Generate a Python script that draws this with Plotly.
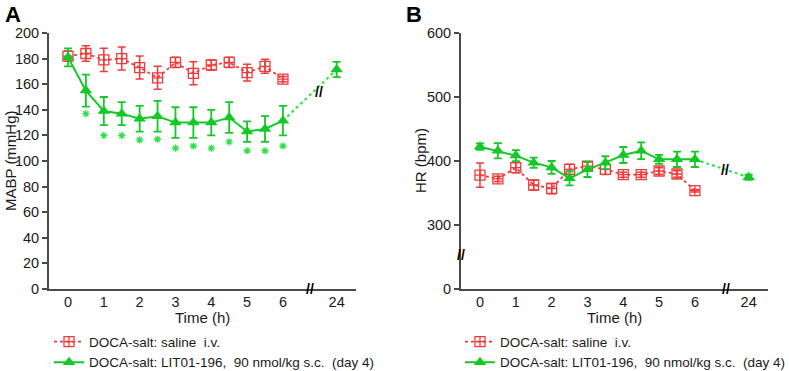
import plotly.graph_objects as go

# ---------------- data ----------------
times = [0, 0.5, 1, 1.5, 2, 2.5, 3, 3.5, 4, 4.5, 5, 5.5, 6]
late_time = 24
x_tick_labels = ["0", "1", "2", "3", "4", "5", "6", "24"]

mabp_saline = [182, 184, 179, 180, 173, 165, 177, 168.5, 175, 177, 169, 174, 164]
mabp_saline_err = [4, 6, 9, 9, 9, 9, 4, 9, 4, 4, 6.5, 5.5, 2]
mabp_lit = [181, 155, 139, 137, 133, 135, 130, 130, 130, 134, 123, 125, 131.5]
mabp_lit_err = [7, 12.5, 11, 9, 10, 12, 12, 12, 10, 12, 8, 10, 11.5]
mabp_lit_24 = 171.5
mabp_lit_24_err = 6
star_times = [0.5, 1, 1.5, 2, 2.5, 3, 3.5, 4, 4.5, 5, 5.5, 6]
star_mabp = [137, 120, 120, 116.5, 117, 110, 111.7, 110, 115, 108, 108, 111.7]

hr_saline = [378, 372, 389.6, 362.5, 357, 387, 392, 387, 378.6, 378.6, 384.4, 379.7, 353.6]
hr_saline_err = [19, 4, 8, 8, 8, 8, 6, 8, 4, 4, 5, 5, 2]
hr_lit = [422.4, 416, 408.4, 397.4, 390, 373, 387, 397.4, 409.4, 416, 402.6, 402.6, 402.6]
hr_lit_err = [5, 12, 8.5, 8, 10, 11, 12, 10, 12.5, 13, 7, 12, 12]
hr_lit_24 = 374.5
hr_lit_24_err = 4

hr_tick_vals = [0, 300, 400, 500, 600]

label_saline = "DOCA-salt: saline  i.v."
label_lit = "DOCA-salt: LIT01-196,  90 nmol/kg s.c.  (day 4)"

# --------------- axis-break helpers ---------------
BREAK_X = 7.5       # position on the axis where "24" is drawn (x axis broken after 6 h)
HR_BREAK_OFFSET = 200  # HR axis: 0 drawn one tick-step below 300 (y axis broken)


def xpos(t):
    return t if t <= 6 else BREAK_X


def hr_pos(v):
    return v if v >= 300 else v + HR_BREAK_OFFSET


RED = "#f03a3a"
GREEN = "#14c828"
GREEN_LIGHT = "#2ee04a"
FONT = "Liberation Sans, Arial, sans-serif"

fig = go.Figure()


def add_panel(xa, ya, saline, saline_err, lit, lit_err, lit24, lit24_err, legend, conv):
    fig.add_trace(go.Scatter(
        x=[xpos(t) for t in times], y=[conv(v) for v in saline],
        error_y=dict(type="data", array=saline_err, color=RED, thickness=1.5, width=4),
        mode="lines+markers", name=label_saline, legend=legend,
        line=dict(color=RED, width=1.8, dash="dot"),
        marker=dict(symbol="square-cross-open", size=10, color=RED, line=dict(width=1.3)),
        xaxis=xa, yaxis=ya))
    fig.add_trace(go.Scatter(
        x=[xpos(times[-1]), xpos(late_time)], y=[conv(lit[-1]), conv(lit24)],
        mode="lines", showlegend=False, hoverinfo="skip",
        line=dict(color=GREEN_LIGHT, width=2, dash="dot"),
        xaxis=xa, yaxis=ya))
    fig.add_trace(go.Scatter(
        x=[xpos(t) for t in times], y=[conv(v) for v in lit],
        error_y=dict(type="data", array=lit_err, color=GREEN, thickness=1.8, width=4),
        mode="lines+markers", name=label_lit, legend=legend,
        line=dict(color=GREEN, width=2),
        marker=dict(symbol="triangle-up", size=11, color=GREEN),
        xaxis=xa, yaxis=ya))
    fig.add_trace(go.Scatter(
        x=[xpos(late_time)], y=[conv(lit24)],
        error_y=dict(type="data", array=[lit24_err], color=GREEN, thickness=1.8, width=4),
        mode="markers", showlegend=False,
        marker=dict(symbol="triangle-up", size=11, color=GREEN),
        xaxis=xa, yaxis=ya))


add_panel("x", "y", mabp_saline, mabp_saline_err, mabp_lit, mabp_lit_err,
          mabp_lit_24, mabp_lit_24_err, "legend", lambda v: v)
add_panel("x2", "y2", hr_saline, hr_saline_err, hr_lit, hr_lit_err,
          hr_lit_24, hr_lit_24_err, "legend2", hr_pos)

fig.add_trace(go.Scatter(
    x=star_times, y=star_mabp, mode="markers", showlegend=False,
    marker=dict(symbol="asterisk-open", size=6, color=GREEN_LIGHT,
                line=dict(width=1.3, color=GREEN_LIGHT)),
    xaxis="x", yaxis="y"))

x_tick_vals = [xpos(t) for t in [0, 1, 2, 3, 4, 5, 6, late_time]]
axis_common = dict(showline=True, linecolor="#4a4a4a", linewidth=2, showgrid=False,
                   zeroline=False, tickfont=dict(size=14.5, color="#1a1a1a", family=FONT))
xcommon = dict(axis_common, range=[-0.53, 8.04], tickvals=x_tick_vals, ticktext=x_tick_labels,
               ticks="", fixedrange=True, ticklabelstandoff=-1)
ycommon = dict(axis_common, ticks="outside", ticklen=5, tickwidth=1.5, tickcolor="#4a4a4a")

fig.update_layout(
    width=789, height=371,
    margin=dict(l=49, r=21, t=33, b=82, autoexpand=False),
    paper_bgcolor="white", plot_bgcolor="white",
    font=dict(family=FONT, color="#1a1a1a"),
    xaxis=dict(xcommon, domain=[0, 0.427], anchor="y"),
    yaxis=dict(ycommon, domain=[0, 1], range=[0, 200], dtick=20, anchor="x"),
    xaxis2=dict(xcommon, domain=[0.573, 1], anchor="y2"),
    yaxis2=dict(ycommon, domain=[0, 1], range=[200, 600],
                tickvals=[hr_pos(v) for v in hr_tick_vals], ticktext=[str(v) for v in hr_tick_vals],
                anchor="x2"),
    legend=dict(x=0.0, y=-0.146, xanchor="left", yanchor="top", itemwidth=30,
                font=dict(size=13.5, family=FONT, color="#1a1a1a"), tracegroupgap=0,
                bgcolor="rgba(0,0,0,0)"),
    legend2=dict(x=0.5716, y=-0.146, xanchor="left", yanchor="top", itemwidth=30,
                 font=dict(size=13.5, family=FONT, color="#1a1a1a"), tracegroupgap=0,
                 bgcolor="rgba(0,0,0,0)"),
    showlegend=True,
)


def ann(text, x, y, xref="paper", yref="paper", size=15, angle=0, color="#1a1a1a"):
    return dict(text=text, x=x, y=y, xref=xref, yref=yref, showarrow=False,
                xanchor="center", yanchor="middle", textangle=angle,
                font=dict(size=size, family=FONT, color=color))


annotations = [
    ann("<b>A</b>", -0.05, 1.074, size=22, color="black"),
    ann("<b>B</b>", 0.5077, 1.074, size=22, color="black"),
    ann("MABP (mmHg)", -0.0542, 0.5, angle=-90),
    ann("HR (bpm)", 0.516, 0.5, angle=-90),
    ann("Time (h)", 0.2135, -0.113),
    ann("Time (h)", 0.7865, -0.113),
    # axis / line break marks
    ann("<b>//</b>", 6.76, 0, "x", "y", size=14, color="black"),
    ann("<b>//</b>", 7.0, 154, "x", "y", size=14, color="black"),
    ann("<b>//</b>", 6.87, 200, "x2", "y2", size=14, color="black"),
    ann("<b>//</b>", 6.84, 386, "x2", "y2", size=14, color="black"),
    ann("<b>//</b>", -0.53, 253, "x2", "y2", size=14, color="black"),
]
fig.update_layout(annotations=annotations)

fig.write_html("out.html", config={"displayModeBar": False},
               post_script="document.body.style.margin='0';")
